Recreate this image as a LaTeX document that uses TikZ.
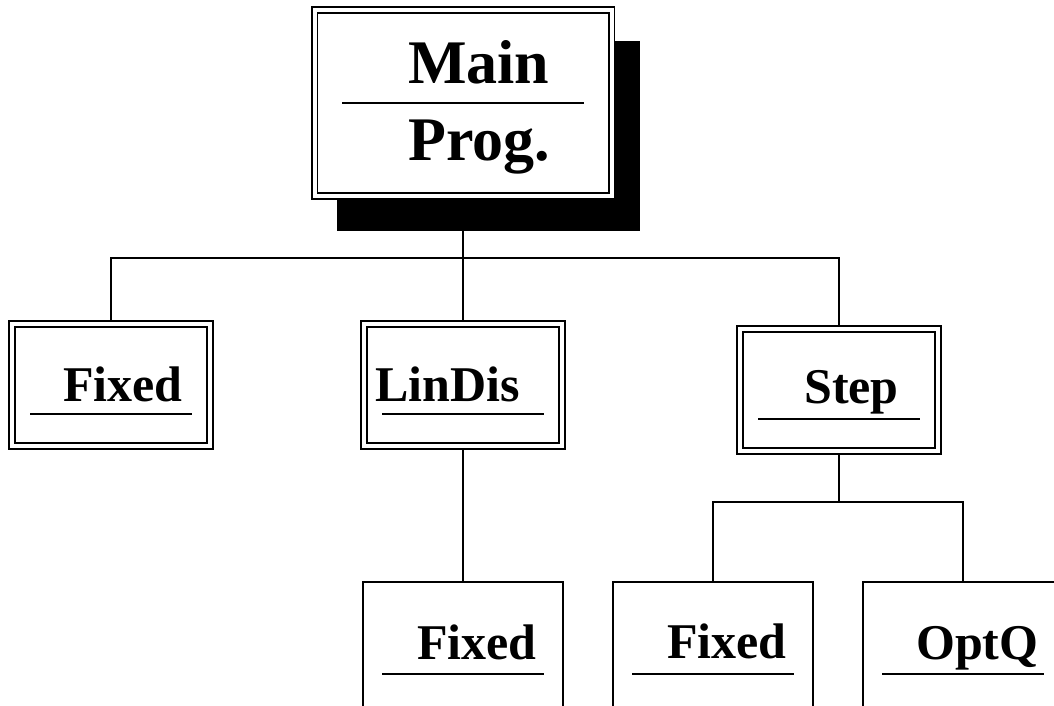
\documentclass[tikz,border=0pt]{standalone}
\usepackage{fontspec}
\setmainfont{Liberation Serif}
\usetikzlibrary{calc,shadows,backgrounds}

\begin{document}
\begin{tikzpicture}[x=1pt, y=-1pt,
                    unit/.style={draw, double, double distance=4pt, line width=1.8pt,
                                 minimum width=198pt, minimum height=122pt, inner sep=0pt},
                    leaf/.style={draw, line width=2pt, anchor=north,
                                 minimum width=200pt, minimum height=150pt, inner sep=0pt},
                    wire/.style={line width=1.8pt},
                    rule/.style={line width=2pt},
                    lbl/.style={anchor=base west, inner sep=0pt,
                                font=\bfseries\fontsize{50}{60}\selectfont},
                    biglbl/.style={lbl, font=\bfseries\fontsize{62}{74}\selectfont},
                   ]

\useasboundingbox (0,0) rectangle (1054,706);
\clip (0,0) rectangle (1054,706);

% top level
\node[unit, fill=white, minimum width=297pt, minimum height=186pt,
      drop shadow={shadow xshift=25pt, shadow yshift=-32pt, shadow scale=1.02,
                   fill=black, opacity=1}]
      (main) at (463,103) {};
\node[biglbl] (mainA) at (408,84) {Main};
\node[biglbl] (mainB) at (408,160) {Prog.};
\draw[rule] ($(main.center)+(-121,0)$) -- ++(242,0);

% second level
\node[unit] (fix1) at (111,385) {};
\node[unit] (lin)  at (463,385) {};
\node[unit] (step) at (839,390) {};

\node[lbl] (fix1-txt) at (63,401)  {Fixed};
\node[lbl] (lin-txt)  at (375,401) {LinDis};
\node[lbl] (step-txt) at (804,403) {Step};

\foreach \b in {fix1,lin,step}
    \draw[rule] ($(\b.center)+(-81,29)$) -- ++(162,0);

% third level (runs off the page)
\node[leaf] (fix2) at (463,581) {};
\node[leaf] (fix3) at (713,581) {};
\node[leaf] (optq) at (963,581) {};

\node[lbl] (fix2-txt) at (417,659) {Fixed};
\node[lbl] (fix3-txt) at (667,658) {Fixed};
\node[lbl] (optq-txt) at (916,659) {OptQ};

\foreach \b in {fix2,fix3,optq}
    \draw[rule] ($(\b.north)+(-81,93)$) -- ++(162,0);

% tree lines
\begin{scope}[on background layer]
\coordinate (bus1) at ($(main.south)+(0,61)$);
\coordinate (bus2) at ($(step.south)+(0,50)$);

\draw[wire] (main.south) -- (bus1);
\draw[wire] (bus1) -| (fix1.north);
\draw[wire] (bus1) -- (lin.north);
\draw[wire] (bus1) -| (step.north);

\draw[wire] (lin.south) -- (fix2.north);

\draw[wire] (step.south) -- (bus2);
\draw[wire] (bus2) -| (fix3.north);
\draw[wire] (bus2) -| (optq.north);
\end{scope}

\end{tikzpicture}
\end{document}
